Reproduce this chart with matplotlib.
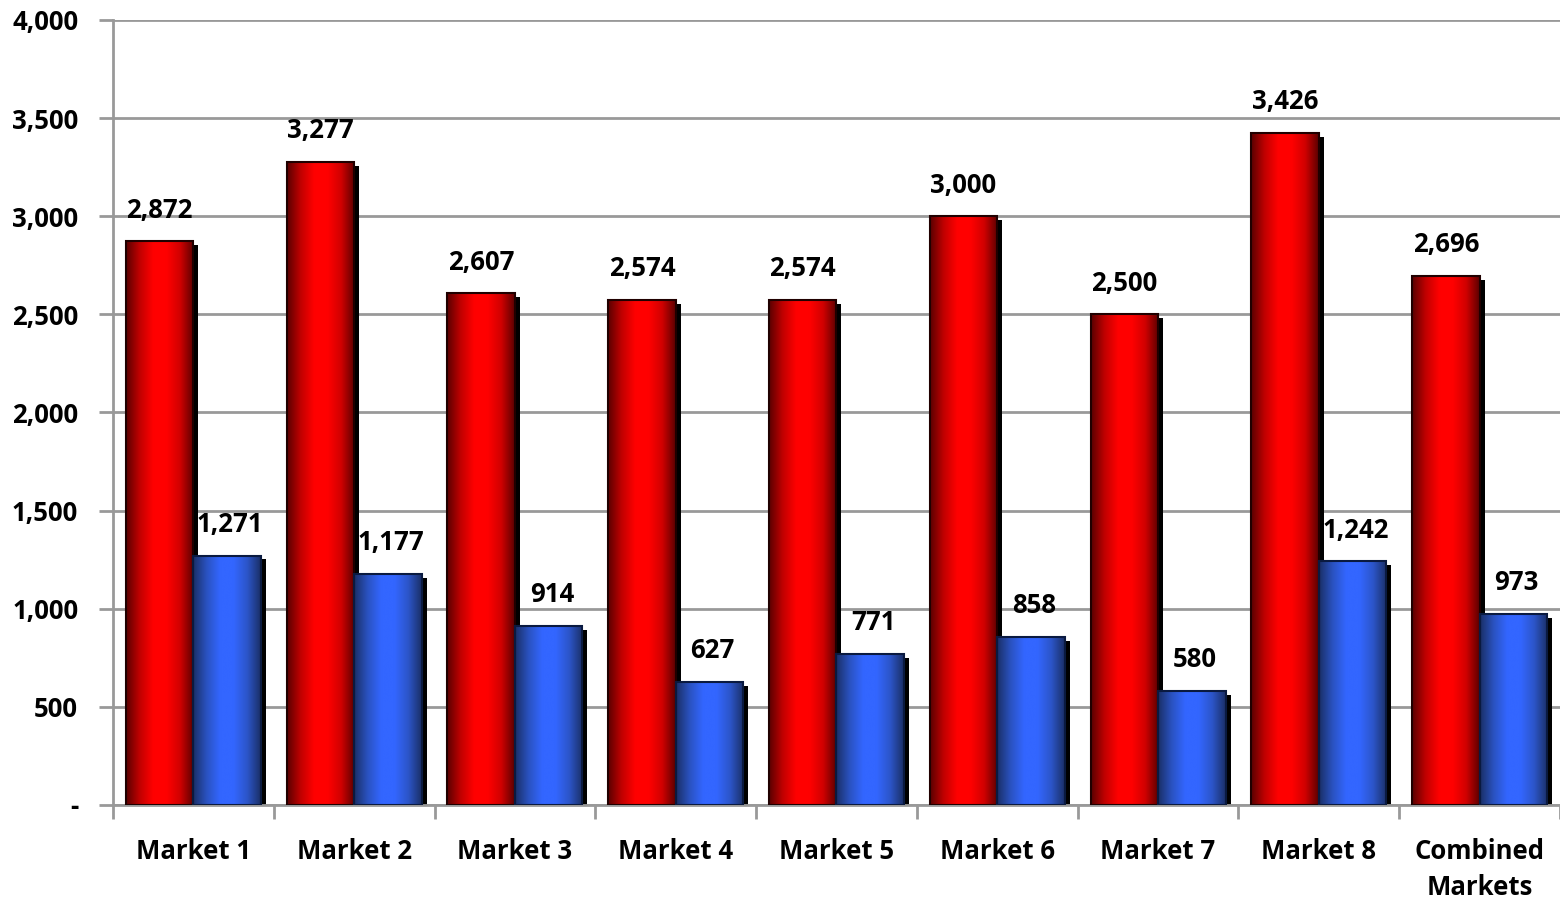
import numpy as np
import matplotlib.pyplot as plt
from matplotlib.colors import LinearSegmentedColormap
from matplotlib.patches import Rectangle
from matplotlib.ticker import FuncFormatter, MultipleLocator

# Chart data
markets = ['Market 1', 'Market 2', 'Market 3', 'Market 4', 'Market 5',
           'Market 6', 'Market 7', 'Market 8', 'Combined\nMarkets']
red_vals = [2872, 3277, 2607, 2574, 2574, 3000, 2500, 3426, 2696]
blue_vals = [1271, 1177, 914, 627, 771, 858, 580, 1242, 973]

plt.rcParams['font.family'] = ['Open Sans', 'DejaVu Sans']
plt.rcParams['font.weight'] = 'bold'
FS = 18.5

# Cylinder-like horizontal shading for the bars
red_cmap = LinearSegmentedColormap.from_list(
    'red_shade', ['#5a0000', '#c00000', '#ff0000', '#ff0000', '#d00000', '#5a0000'])
blue_cmap = LinearSegmentedColormap.from_list(
    'blue_shade', ['#1a2f66', '#2a52c0', '#3366ff', '#3366ff', '#2c55c8', '#1a2f66'])
grad = np.linspace(0, 1, 256).reshape(1, -1)

fig = plt.figure(figsize=(15.6, 9), dpi=100)
ax = fig.add_axes([0.0724, 0.1056, 0.9276, 0.8722])

width = 0.42
dx = 0.031   # shadow offset to the right
dy = 20      # shadow offset downward

def draw_bar(x0, h, cmap, edge):
    ax.add_patch(Rectangle((x0 + dx, 0), width, h - dy, facecolor='black',
                           edgecolor='none', zorder=2))
    im = ax.imshow(grad, extent=[x0, x0 + width, 0, h], aspect='auto',
                   cmap=cmap, zorder=3, interpolation='bicubic')
    rect = Rectangle((x0, 0), width, h, facecolor='none', edgecolor=edge,
                     linewidth=1.5, zorder=4)
    ax.add_patch(rect)
    im.set_clip_path(rect)

for i, (r, b) in enumerate(zip(red_vals, blue_vals)):
    draw_bar(i - width, r, red_cmap, '#200000')
    draw_bar(i, b, blue_cmap, '#0a1a40')
    ax.text(i - width / 2, r + 90, f'{r:,}', ha='center', va='bottom',
            fontsize=FS, fontweight='bold', zorder=5)
    ax.text(i + width / 2 + 0.02, b + 90, f'{b:,}', ha='center', va='bottom',
            fontsize=FS, fontweight='bold', zorder=5)

ax.set_xlim(-0.5, 8.5)
ax.set_ylim(0, 4000)

ax.yaxis.set_major_locator(MultipleLocator(500))
ax.yaxis.set_major_formatter(FuncFormatter(lambda v, p: '-' if v == 0 else f'{int(v):,}'))
ax.grid(axis='y', color='#999999', linewidth=2, zorder=0)
ax.set_axisbelow(True)

ax.set_xticks(range(len(markets)))
ax.set_xticklabels(markets, fontsize=FS, fontweight='bold', linespacing=1.4)
ax.set_xticks(np.arange(-0.5, 9.0, 1.0), minor=True)
ax.tick_params(axis='x', which='major', length=0, pad=24)
ax.tick_params(axis='x', which='minor', length=10, width=2, color='#999999')
ax.tick_params(axis='y', length=10, width=2, color='#999999', pad=15, labelsize=FS)
for lbl in ax.get_yticklabels():
    lbl.set_fontweight('bold')

for side in ['top', 'right']:
    ax.spines[side].set_visible(False)
for side in ['left', 'bottom']:
    ax.spines[side].set_color('#999999')
    ax.spines[side].set_linewidth(2)

fig.savefig('out.png', dpi=100)
